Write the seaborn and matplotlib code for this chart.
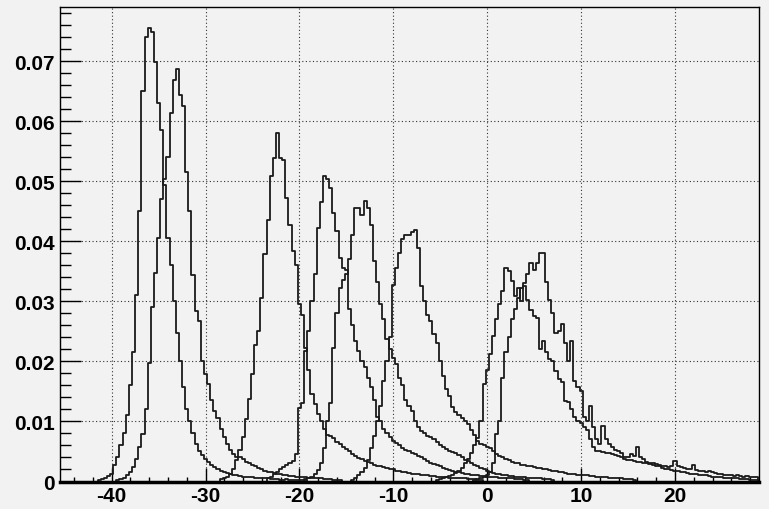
import numpy as np
import pandas as pd
import matplotlib
matplotlib.use("Agg")
import matplotlib.pyplot as plt
import seaborn as sns
from matplotlib.ticker import MultipleLocator, FuncFormatter

# ---------------- data (bin contents in units of 1e-4) ----------------
BIN_WIDTH = 1.0 / 3.0
FIRST_EDGE = -137.5 / 3.0      # -45.833...
N_BINS = 225
SCALE = 1e-4

h1_start = -41.5
h1_vals = [3, 4, 6, 9, 13, 27, 40, 60, 80, 110, 160, 215, 310, 450, 650, 740, 755, 748,
           698, 630, 585, 494, 405, 360, 300, 248, 200, 157, 120, 100, 80, 62, 50, 44, 38,
           32, 28, 24, 21, 18, 16, 14, 12, 11, 10, 9, 8, 8, 7, 7, 6, 6, 5, 5, 5, 4, 4, 4,
           3, 3, 4, 3, 3, 2, 3, 2, 2]

h2_start = -39.5
h2_vals = [3, 4, 6, 10, 16, 24, 38, 57, 79, 120, 198, 290, 347, 405, 470, 503, 540, 614,
           668, 687, 643, 626, 516, 450, 344, 284, 268, 200, 179, 162, 135, 118, 105, 88,
           74, 62, 52, 45, 40, 41, 37, 33, 30, 27, 25, 22, 20, 18, 16, 15, 14, 13, 12, 11,
           10, 9, 9, 8, 8, 7, 7, 6, 6, 5, 5, 5, 4, 4, 4, 3, 3, 3]

h3_start = -28.5
h3_vals = [4, 6, 8, 12, 20, 35, 52, 74, 104, 137, 179, 228, 251, 306, 378, 436, 508, 538,
           580, 538, 536, 472, 427, 383, 361, 295, 278, 223, 185, 146, 129, 112, 101, 87,
           78, 76, 72, 66, 62, 58, 54, 50, 46, 42, 39, 37, 34, 32, 30, 28, 26, 25, 24, 22,
           21, 20, 18, 17, 16, 15, 14, 13, 12, 12, 11, 10, 10, 9, 9, 8, 8, 7, 7, 6, 6, 6,
           5, 5, 5, 4, 4, 4, 3, 3]

h4_start = -23.5
h4_vals = [5, 8, 12, 16, 20, 24, 27, 30, 34, 45, 123, 130, 218, 250, 300, 345, 422, 466,
           508, 503, 488, 447, 417, 372, 356, 353, 287, 260, 234, 218, 201, 190, 173, 157,
           135, 107, 100, 88, 80, 74, 68, 64, 60, 56, 53, 50, 48, 45, 42, 40, 37, 34, 31,
           29, 27, 25, 23, 21, 19, 17, 16, 15, 14, 13, 12, 11, 10, 10, 9, 9, 8, 8, 7, 7,
           6, 6, 5, 5, 5, 4, 4, 4, 3, 3]

h5_start = -19.5
h5_vals = [4, 6, 8, 12, 19, 30, 55, 100, 131, 223, 280, 322, 335, 345, 370, 410, 456, 456,
           444, 467, 455, 427, 367, 333, 295, 270, 237, 220, 205, 195, 173, 160, 135, 125,
           118, 100, 90, 84, 80, 76, 74, 70, 65, 60, 57, 54, 50, 49, 47, 44, 40, 36, 34,
           30, 28, 25, 22, 20, 18, 16, 14, 13, 12, 11, 10, 9, 9, 8, 8, 7, 7, 6, 6, 5, 5,
           5, 4, 4, 4, 3]

h6_start = -14.5
h6_vals = [3, 5, 10, 15, 22, 35, 55, 75, 101, 125, 168, 201, 240, 328, 356, 380, 403, 411,
           411, 415, 419, 389, 325, 300, 278, 267, 245, 230, 201, 175, 154, 143, 124, 115,
           110, 105, 101, 95, 85, 78, 68, 63, 60, 58, 56, 50, 45, 42, 40, 38, 35, 33, 31,
           30, 28, 27, 26, 25, 24, 23, 22, 21, 20, 19, 18, 17, 16, 15, 14, 13, 13, 12, 11,
           11, 10, 10, 9, 9, 8, 8, 7, 7, 6, 6, 5, 5, 5, 4, 4, 4, 3]

h7_start = -5.5
h7_vals = [3, 4, 5, 7, 9, 11, 14, 18, 23, 30, 38, 48, 60, 72, 100, 162, 185, 212, 243, 270,
           295, 317, 356, 350, 334, 309, 322, 300, 325, 303, 286, 275, 273, 220, 234, 215,
           204, 201, 184, 170, 165, 134, 132, 121, 107, 100, 98, 90, 85, 70, 57, 51, 50, 49,
           48, 47, 46, 44, 42, 40, 37, 35, 35, 34, 33, 33, 31, 30, 29, 28, 26, 25, 23, 21,
           20, 19, 18, 17, 16, 15, 14, 13, 12, 12, 11, 10, 10, 9, 8, 8, 7, 7, 6, 6, 5, 5,
           5, 4, 4, 4, 3, 3, 3]

h8_start = -1.5
h8_vals = [3, 4, 5, 7, 10, 15, 30, 79, 101, 173, 215, 240, 270, 287, 305, 322, 330, 345,
           364, 353, 364, 380, 380, 333, 303, 280, 248, 250, 262, 230, 201, 234, 168, 157,
           150, 107, 100, 126, 90, 71, 62, 93, 70, 62, 58, 52, 50, 47, 40, 40, 45, 42, 57,
           40, 38, 32, 31, 30, 29, 27, 25, 25, 24, 25, 34, 26, 24, 22, 21, 20, 28, 19, 18,
           17, 16, 18, 15, 14, 13, 12, 11, 10, 10, 9, 10, 9, 8, 9, 8, 7, 7]

hists = [("h1", h1_start, h1_vals), ("h2", h2_start, h2_vals), ("h3", h3_start, h3_vals),
         ("h4", h4_start, h4_vals), ("h5", h5_start, h5_vals), ("h6", h6_start, h6_vals),
         ("h7", h7_start, h7_vals), ("h8", h8_start, h8_vals)]

x_ticks = [-40, -30, -20, -10, 0, 10, 20]
y_ticks = [0, 0.01, 0.02, 0.03, 0.04, 0.05, 0.06, 0.07]

# ---------------- build table ----------------
rows = []
for name, start, vals in hists:
    for i, v in enumerate(vals):
        rows.append({"x": start + (i + 0.5) * BIN_WIDTH, "w": v * SCALE, "h": name})
df = pd.DataFrame(rows)
edges = (FIRST_EDGE + np.arange(N_BINS + 1) * BIN_WIDTH).tolist()

# ---------------- style ----------------
BG = "#f2f2f2"
sns.set_style("ticks")
plt.rcParams["font.family"] = ["Liberation Sans", "DejaVu Sans"]
plt.rcParams["font.weight"] = "bold"

fig = plt.figure(figsize=(7.69, 5.10), dpi=100, facecolor=BG)
ax = fig.add_axes([60.3 / 769, 27.5 / 510, (759 - 60.3) / 769, 474.2 / 510])
ax.set_facecolor(BG)

sns.histplot(data=df, x="x", weights="w", hue="h", bins=edges, element="step",
             fill=False, palette=["#1a1a1a"] * len(hists), legend=False,
             linewidth=1.3, ax=ax)

ax.set_xlim(-45.47, 28.95)
ax.set_ylim(0, 0.07896)
ax.set_xlabel("")
ax.set_ylabel("")

ax.set_xticks(x_ticks)
ax.set_yticks(y_ticks)
ax.xaxis.set_minor_locator(MultipleLocator(2))
ax.yaxis.set_minor_locator(MultipleLocator(0.002))
ax.yaxis.set_major_formatter(FuncFormatter(lambda v, _: "0" if abs(v) < 1e-9 else f"{v:.2f}"))
ax.xaxis.set_major_formatter(FuncFormatter(lambda v, _: f"{v:.0f}"))

ax.tick_params(axis="both", which="both", direction="in", top=False, right=False,
               colors="black", width=1.0, labelsize=15)
ax.tick_params(axis="y", which="major", length=15, pad=4)
ax.tick_params(axis="y", which="minor", length=7.6)
ax.tick_params(axis="x", which="major", length=10, pad=3)
ax.tick_params(axis="x", which="minor", length=3.6)
for lab in ax.get_xticklabels() + ax.get_yticklabels():
    lab.set_fontweight("bold")

ax.set_axisbelow(True)
ax.grid(True, which="major", color="#333333", linestyle=(0, (1, 2.2)), linewidth=0.8)

for side, sp in ax.spines.items():
    sp.set_visible(True)
    sp.set_color("black")
    sp.set_linewidth(1.0)
ax.spines["bottom"].set_linewidth(2.5)

fig.savefig("out.png", dpi=100, facecolor=BG)
